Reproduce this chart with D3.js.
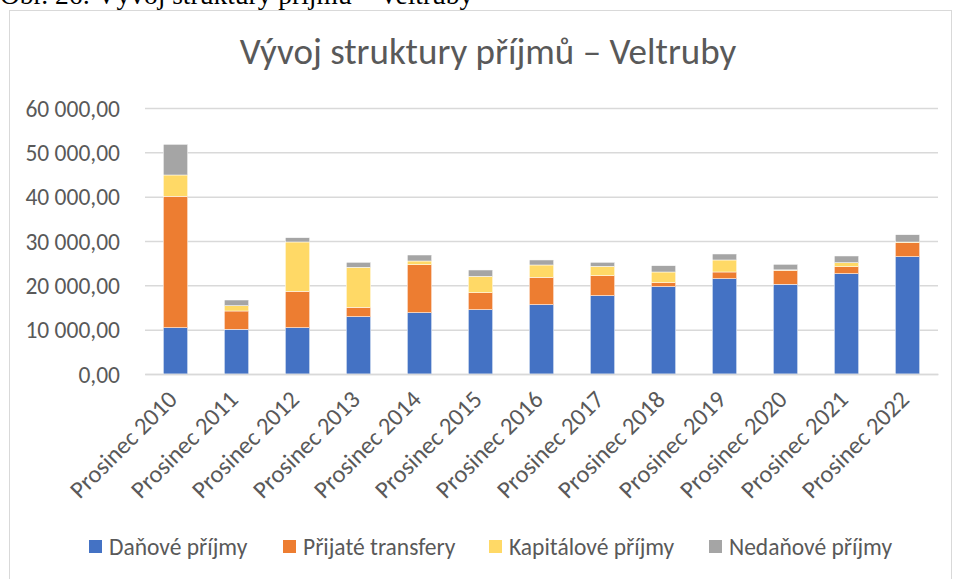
<!DOCTYPE html>
<html lang="cs">
<head>
<meta charset="utf-8" />
<title>Vývoj struktury příjmů – Veltruby</title>
<style>
  body { margin: 0; background: #fff; }
  svg text { font-family: Carlito, Calibri, Lato, "Open Sans", sans-serif; fill: #595959; }
  .caption { font-family: "Liberation Serif", "Times New Roman", serif; fill: #000; }
</style>
<script src="https://cdn.jsdelivr.net/npm/d3@7"></script>
</head>
<body>
<script>
// kategorie a hodnoty (tis. Kč)
var categories = ['Prosinec 2010', 'Prosinec 2011', 'Prosinec 2012', 'Prosinec 2013', 'Prosinec 2014',
                  'Prosinec 2015', 'Prosinec 2016', 'Prosinec 2017', 'Prosinec 2018', 'Prosinec 2019',
                  'Prosinec 2020', 'Prosinec 2021', 'Prosinec 2022'];
var danove     = [10440, 10080, 10440, 12930, 13830, 14510, 15640, 17670, 19700, 21500, 20230, 22630, 26460];
var transfery  = [29650, 4130, 8210, 2110, 10830, 3830, 6170, 4510, 900, 1510, 3160, 1580, 3160];
var kapitalove = [4800, 1200, 11130, 9030, 830, 3690, 2780, 2110, 2410, 2710, 100, 900, 150];
var nedanove   = [6920, 1280, 970, 1130, 1350, 1430, 1130, 910, 1420, 1350, 1250, 1510, 1650];
var seriesNames = ['Daňové příjmy', 'Přijaté transfery', 'Kapitálové příjmy', 'Nedaňové příjmy'];
var colors = ['#4472C4', '#ED7D31', '#FFD966', '#A5A5A5'];
var yTicks = [0, 10000, 20000, 30000, 40000, 50000, 60000];

var width = 954, height = 579;
var margin = { left: 145, right: 16, top: 108, bottom: 205 };
var fontSize = '23.5px';

var rows = categories.map(function(c, i) {
    return { cat: c, s0: danove[i], s1: transfery[i], s2: kapitalove[i], s3: nedanove[i] };
});
var stack = d3.stack().keys(['s0', 's1', 's2', 's3'])(rows);

var svg = d3.select('body').append('svg')
    .attr('width', width)
    .attr('height', height);

// popisek nad grafem (oříznutý horním okrajem)
svg.append('text')
    .attr('class', 'caption')
    .attr('x', 0)
    .attr('y', 4)
    .style('font-size', '27.5px')
    .text('Obr. 26: Vývoj struktury příjmů – Veltruby');

// rámeček grafu
svg.append('rect')
    .attr('x', 9.5).attr('y', 10.5)
    .attr('width', 942).attr('height', 600)
    .attr('fill', 'none')
    .attr('stroke', '#d9d9d9');

var x = d3.scaleBand()
    .domain(categories)
    .range([margin.left, width - margin.right])
    .paddingInner(0.6)
    .paddingOuter(0.3);

var y = d3.scaleLinear()
    .domain([0, 60000])
    .range([height - margin.bottom, margin.top]);

var fmt = function(d) {
    return d3.format(',.2f')(d).replace(/,/g, ' ').replace('.', ',');
};

// mřížka a popisky osy y
var yAxis = svg.append('g')
    .attr('transform', 'translate(' + margin.left + ',0)')
    .call(d3.axisLeft(y).tickValues(yTicks).tickSize(-(width - margin.left - margin.right)).tickFormat(fmt));
yAxis.select('.domain').remove();
yAxis.selectAll('.tick line').attr('stroke', '#d9d9d9').attr('stroke-width', 1.5);
yAxis.selectAll('.tick text')
    .attr('x', -25)
    .attr('dy', '0.35em')
    .style('font-size', fontSize)
    .attr('fill', '#595959');

// sloupce
svg.append('g').selectAll('g')
    .data(stack)
    .enter().append('g')
    .attr('fill', function(d, i) { return colors[i]; })
    .selectAll('rect')
    .data(function(d) { return d; })
    .enter().append('rect')
    .attr('x', function(d) { return x(d.data.cat); })
    .attr('y', function(d) { return y(d[1]); })
    .attr('width', x.bandwidth())
    .attr('height', function(d) { return y(d[0]) - y(d[1]); })
    .attr('stroke', '#fff')
    .attr('stroke-width', 0.5);

// osa x
var xAxis = svg.append('g')
    .attr('transform', 'translate(0,' + (height - margin.bottom) + ')')
    .call(d3.axisBottom(x).tickSize(0));
xAxis.select('.domain').attr('stroke', '#d9d9d9').attr('stroke-width', 1.5);
xAxis.selectAll('.tick text')
    .style('font-size', '24.5px')
    .attr('fill', '#595959')
    .attr('text-anchor', 'end')
    .attr('y', 0)
    .attr('dy', 0)
    .attr('transform', 'translate(3,27) rotate(-45)');

// legenda
var legendX = [89, 283, 489, 709];
var legend = svg.append('g').selectAll('g')
    .data(seriesNames)
    .enter().append('g')
    .attr('transform', function(d, i) { return 'translate(' + legendX[i] + ',547)'; });
legend.append('rect')
    .attr('x', 0).attr('y', -7)
    .attr('width', 13).attr('height', 13)
    .attr('fill', function(d, i) { return colors[i]; });
legend.append('text')
    .attr('x', 20)
    .attr('dy', '0.33em')
    .style('font-size', fontSize)
    .text(function(d) { return d; });

// nadpis
svg.append('text')
    .attr('x', 488)
    .attr('y', 64)
    .attr('text-anchor', 'middle')
    .style('font-size', '37px')
    .style('font-weight', 300)
    .text('Vývoj struktury příjmů – Veltruby');
</script>
</body>
</html>
